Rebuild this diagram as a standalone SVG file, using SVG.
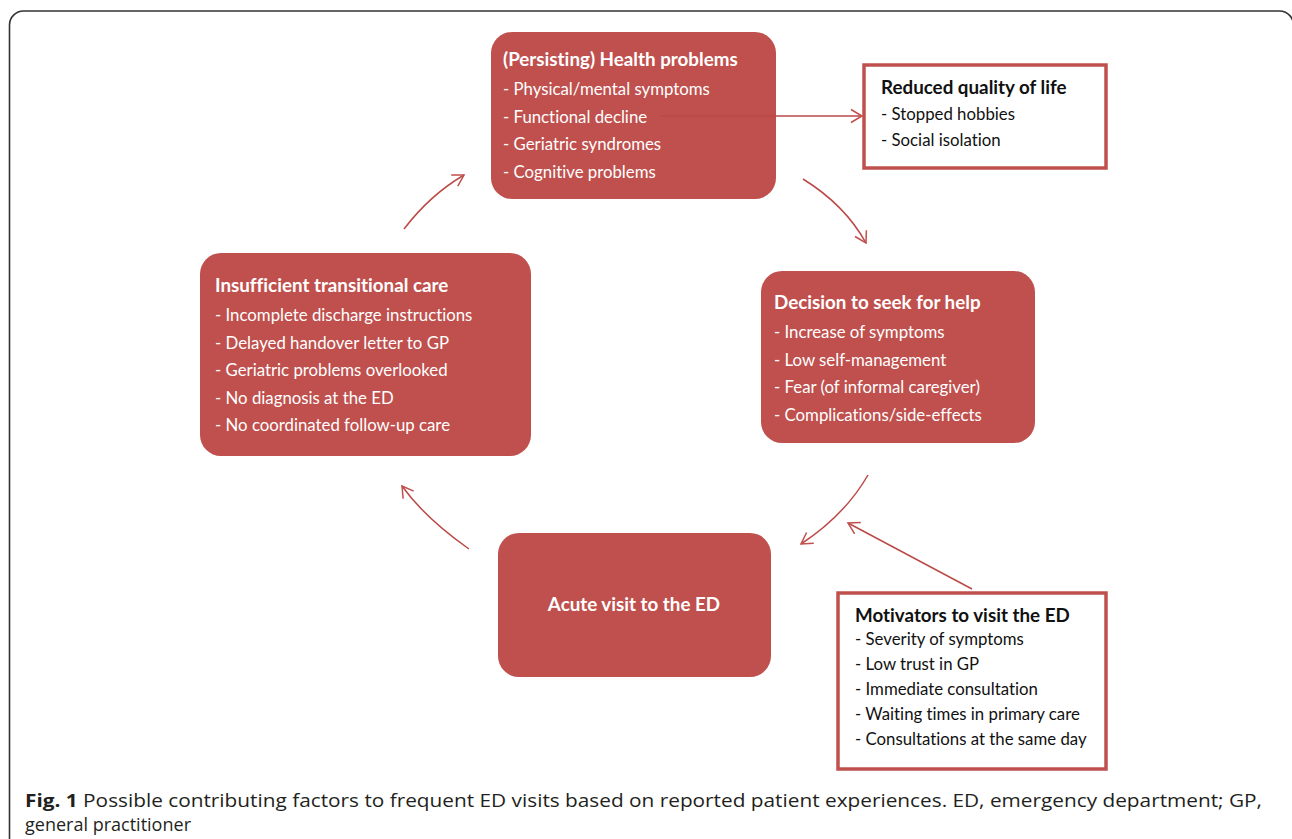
<svg xmlns="http://www.w3.org/2000/svg" width="1292" height="839" viewBox="0 0 1292 839">
<defs>
<style>
.box{fill:#c0504d;}
.obox{fill:#fff;stroke:#c0504d;stroke-width:3.5;}
.t{font-family:Lato,"Open Sans",sans-serif;font-size:16.8px;fill:#fff;font-variant-ligatures:none;}
.h{font-family:Lato,"Open Sans",sans-serif;font-size:18.8px;font-weight:bold;fill:#fff;font-variant-ligatures:none;}
.dk{fill:#111;}
.con{fill:none;stroke:#bb4a47;stroke-width:1.5;}
.cap{font-family:"Open Sans","Liberation Sans",sans-serif;font-size:18.5px;fill:#231f20;}
</style>
<marker id="ah" markerUnits="userSpaceOnUse" markerWidth="16" markerHeight="16" refX="12" refY="7" orient="auto" viewBox="0 0 16 14">
<path d="M1,0.5 L12,7 L1,13.5" fill="none" stroke="#c0504d" stroke-width="1.5"/>
</marker>
</defs>
<rect x="9.5" y="11" width="1284" height="860" rx="14" fill="#fff" stroke="#333" stroke-width="1.6"/>

<g id="health">
<rect class="box" x="491" y="32" width="285" height="167" rx="21"/>
<text class="h" x="503" y="66">(Persisting) Health problems</text>
<text class="t" x="503" y="95">- Physical/mental symptoms</text>
<text class="t" x="503" y="123">- Functional decline</text>
<text class="t" x="503" y="150">- Geriatric syndromes</text>
<text class="t" x="503" y="178">- Cognitive problems</text>
</g>

<g id="quality">
<rect class="obox" x="864" y="65" width="242" height="103"/>
<text class="h dk" x="881" y="94">Reduced quality of life</text>
<text class="t dk" x="881" y="120">- Stopped hobbies</text>
<text class="t dk" x="881" y="146">- Social isolation</text>
</g>

<g id="decision">
<rect class="box" x="761" y="271" width="274" height="172" rx="21"/>
<text class="h" x="774" y="309">Decision to seek for help</text>
<text class="t" x="774" y="338">- Increase of symptoms</text>
<text class="t" x="774" y="366">- Low self-management</text>
<text class="t" x="774" y="393">- Fear (of informal caregiver)</text>
<text class="t" x="774" y="421">- Complications/side-effects</text>
</g>

<g id="acute">
<rect class="box" x="498" y="533" width="273" height="144" rx="21"/>
<text class="h" x="634" y="611" text-anchor="middle">Acute visit to the ED</text>
</g>

<g id="transitional">
<rect class="box" x="200" y="253" width="331" height="203" rx="21"/>
<text class="h" x="215" y="292">Insufficient transitional care</text>
<text class="t" x="215" y="321">- Incomplete discharge instructions</text>
<text class="t" x="215" y="349">- Delayed handover letter to GP</text>
<text class="t" x="215" y="376">- Geriatric problems overlooked</text>
<text class="t" x="215" y="404">- No diagnosis at the ED</text>
<text class="t" x="215" y="431">- No coordinated follow-up care</text>
</g>

<g id="motivators">
<rect class="obox" x="838" y="593" width="268" height="176"/>
<text class="h dk" x="855" y="622">Motivators to visit the ED</text>
<text class="t dk" x="855" y="645">- Severity of symptoms</text>
<text class="t dk" x="855" y="670">- Low trust in GP</text>
<text class="t dk" x="855" y="695">- Immediate consultation</text>
<text class="t dk" x="855" y="720">- Waiting times in primary care</text>
<text class="t dk" x="855" y="745">- Consultations at the same day</text>
</g>

<g id="connectors">
<path class="con" d="M660,116 L862,116" marker-end="url(#ah)"/>
<path class="con" d="M803,179 Q845,205 866,243" marker-end="url(#ah)"/>
<path class="con" d="M868,475 Q845,515 801,544" marker-end="url(#ah)"/>
<path class="con" d="M972,589 L848,523" marker-end="url(#ah)"/>
<path class="con" d="M469,549 Q425,518 402,486" marker-end="url(#ah)"/>
<path class="con" d="M404,229 Q430,195 464,175" marker-end="url(#ah)"/>
</g>

<g id="caption">
<text class="cap" x="25" y="807" textLength="1237" lengthAdjust="spacingAndGlyphs"><tspan font-weight="bold">Fig. 1</tspan> Possible contributing factors to frequent ED visits based on reported patient experiences. ED, emergency department; GP,</text>
<text class="cap" x="25" y="831" textLength="166" lengthAdjust="spacingAndGlyphs">general practitioner</text>
</g>
</svg>
